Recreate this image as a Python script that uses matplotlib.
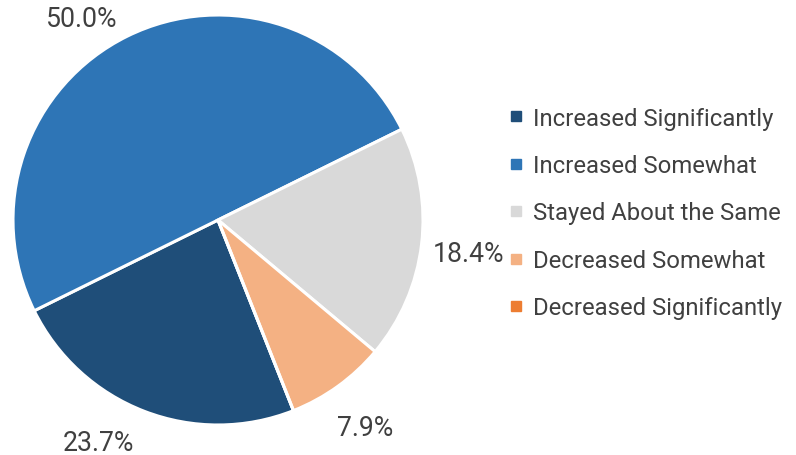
import numpy as np
import matplotlib
matplotlib.use("Agg")
import matplotlib.pyplot as plt
from matplotlib.lines import Line2D

plt.rcParams['font.family'] = ['Roboto', 'DejaVu Sans']

categories = ["Increased Significantly", "Increased Somewhat", "Stayed About the Same",
              "Decreased Somewhat", "Decreased Significantly"]
values = [23.7, 50.0, 18.4, 7.9, 0.0]
colors = ["#1f4e79", "#2e75b6", "#d9d9d9", "#f4b183", "#ed7d31"]
text_color = "#404040"

fig = plt.figure(figsize=(7.96, 4.56), dpi=100)
W, H = 796, 456
cx, cy, R = 218, 456 - 221, 205
ax = fig.add_axes([(cx - R) / W, (cy - R) / H, 2 * R / W, 2 * R / H])

start = -68.4
wedges, _ = ax.pie(values, colors=colors, startangle=start, counterclock=False,
                   wedgeprops=dict(edgecolor="white", linewidth=2.2))
ax.set_xlim(-1, 1)
ax.set_ylim(-1, 1)
ax.set_aspect("equal")
ax.axis("off")

total = sum(values)
for w, v in zip(wedges, values):
    if v <= 0:
        continue
    theta = np.deg2rad((w.theta1 + w.theta2) / 2)
    x, y = np.cos(theta), np.sin(theta)
    if x < 0:
        d = 1.11 if y > 0 else 1.145
        ha = "right"
    else:
        d = 1.23
        ha = "center"
    ax.text(d * x, d * y, f"{v / total * 100:.1f}%", ha=ha, va="center_baseline",
            fontsize=19.2, color=text_color, clip_on=False)

handles = [Line2D([0], [0], marker="s", linestyle="none", markersize=6.5,
                  markerfacecolor=c, markeredgecolor=c) for c in colors]
leg = fig.legend(handles, categories, loc="center left",
                 bbox_to_anchor=(509 / W, (456 - 214) / H), frameon=False,
                 fontsize=17.2, labelcolor=text_color, handlelength=0.6,
                 handletextpad=0.4, labelspacing=1.02, borderaxespad=0,
                 borderpad=0)

fig.savefig("out.png", dpi=100)
